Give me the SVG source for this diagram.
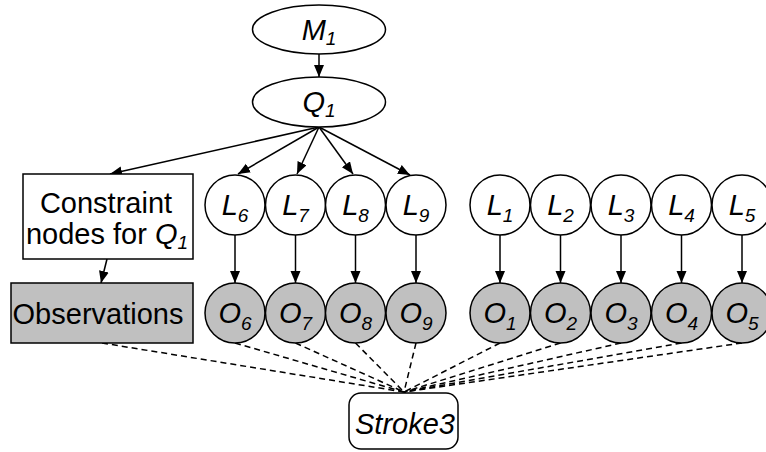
<svg xmlns="http://www.w3.org/2000/svg" width="766" height="452" viewBox="0 0 766 452">
<style>
text{font-family:"Liberation Sans",Arial,sans-serif;font-size:29px;fill:#000}
.i{font-style:italic}
.s{font-size:19px}
.nd{stroke:#000;stroke-width:1.5}
.w{fill:#fff}
.g{fill:#c0c0c0}
.a{stroke:#000;stroke-width:1.5;fill:none;marker-end:url(#ah)}
.d{stroke:#000;stroke-width:1.5;fill:none;stroke-dasharray:6,4}
</style>
<defs>
<marker id="ah" markerUnits="userSpaceOnUse" markerWidth="13" markerHeight="11" refX="12" refY="5" orient="auto">
<path d="M0,0 L12,5 L0,10 z" fill="#000"/>
</marker>
</defs>
<g id="connectors">
<line class="a" x1="319" y1="54" x2="319" y2="77"/>
<line class="a" x1="319" y1="127" x2="110" y2="174"/>
<line class="a" x1="319" y1="127" x2="238" y2="174"/>
<line class="a" x1="319" y1="127" x2="297" y2="174"/>
<line class="a" x1="319" y1="127" x2="353" y2="174"/>
<line class="a" x1="319" y1="127" x2="410" y2="175"/>
<line class="a" x1="107" y1="259" x2="101" y2="283"/>
<line class="a" x1="235" y1="235" x2="235" y2="283"/>
<line class="a" x1="295.5" y1="235" x2="295.5" y2="283"/>
<line class="a" x1="355.5" y1="235" x2="355.5" y2="283"/>
<line class="a" x1="416" y1="235" x2="416" y2="283"/>
<line class="a" x1="500" y1="235" x2="500" y2="283"/>
<line class="a" x1="560.5" y1="235" x2="560.5" y2="283"/>
<line class="a" x1="621" y1="235" x2="621" y2="283"/>
<line class="a" x1="681.5" y1="235" x2="681.5" y2="283"/>
<line class="a" x1="742" y1="235" x2="742" y2="283"/>
<line class="d" x1="102" y1="343" x2="404" y2="392"/>
<line class="d" x1="235" y1="343" x2="404" y2="392"/>
<line class="d" x1="295.5" y1="343" x2="404" y2="392"/>
<line class="d" x1="355.5" y1="343" x2="404" y2="392"/>
<line class="d" x1="416" y1="343" x2="404" y2="392"/>
<line class="d" x1="500" y1="343" x2="404" y2="392"/>
<line class="d" x1="560.5" y1="343" x2="404" y2="392"/>
<line class="d" x1="621" y1="343" x2="404" y2="392"/>
<line class="d" x1="681.5" y1="343" x2="404" y2="392"/>
<line class="d" x1="742" y1="343" x2="404" y2="392"/>
</g>
<g id="M1"><ellipse class="nd w" cx="319" cy="29.5" rx="66.5" ry="24.5"/><text class="i" x="319" y="40" text-anchor="middle">M<tspan class="s" dy="5">1</tspan></text></g>
<g id="Q1"><ellipse class="nd w" cx="319" cy="102" rx="66.5" ry="25"/><text class="i" x="319" y="112" text-anchor="middle">Q<tspan class="s" dy="5">1</tspan></text></g>
<g id="constraint"><rect class="nd w" x="23" y="174" width="170" height="85"/><text x="106" y="213" text-anchor="middle">Constraint</text><text x="107" y="244" text-anchor="middle">nodes for <tspan class="i">Q</tspan><tspan class="i s" dy="5">1</tspan></text></g>
<g id="observations"><rect class="nd g" x="11" y="283" width="182" height="60"/><text x="98" y="324" text-anchor="middle">Observations</text></g>
<g id="L6"><circle class="nd w" cx="235" cy="205" r="30"/><text class="i" x="235" y="215" text-anchor="middle">L<tspan class="s" dy="7">6</tspan></text></g>
<g id="L7"><circle class="nd w" cx="295.5" cy="205" r="30"/><text class="i" x="295.5" y="215" text-anchor="middle">L<tspan class="s" dy="7">7</tspan></text></g>
<g id="L8"><circle class="nd w" cx="355.5" cy="205" r="30"/><text class="i" x="355.5" y="215" text-anchor="middle">L<tspan class="s" dy="7">8</tspan></text></g>
<g id="L9"><circle class="nd w" cx="416" cy="205" r="30"/><text class="i" x="416" y="215" text-anchor="middle">L<tspan class="s" dy="7">9</tspan></text></g>
<g id="L1"><circle class="nd w" cx="500" cy="205" r="30"/><text class="i" x="500" y="215" text-anchor="middle">L<tspan class="s" dy="7">1</tspan></text></g>
<g id="L2"><circle class="nd w" cx="560.5" cy="205" r="30"/><text class="i" x="560.5" y="215" text-anchor="middle">L<tspan class="s" dy="7">2</tspan></text></g>
<g id="L3"><circle class="nd w" cx="621" cy="205" r="30"/><text class="i" x="621" y="215" text-anchor="middle">L<tspan class="s" dy="7">3</tspan></text></g>
<g id="L4"><circle class="nd w" cx="681.5" cy="205" r="30"/><text class="i" x="681.5" y="215" text-anchor="middle">L<tspan class="s" dy="7">4</tspan></text></g>
<g id="L5"><circle class="nd w" cx="742" cy="205" r="30"/><text class="i" x="742" y="215" text-anchor="middle">L<tspan class="s" dy="7">5</tspan></text></g>
<g id="O6"><circle class="nd g" cx="235" cy="313" r="30"/><text class="i" x="235" y="323" text-anchor="middle">O<tspan class="s" dy="7">6</tspan></text></g>
<g id="O7"><circle class="nd g" cx="295.5" cy="313" r="30"/><text class="i" x="295.5" y="323" text-anchor="middle">O<tspan class="s" dy="7">7</tspan></text></g>
<g id="O8"><circle class="nd g" cx="355.5" cy="313" r="30"/><text class="i" x="355.5" y="323" text-anchor="middle">O<tspan class="s" dy="7">8</tspan></text></g>
<g id="O9"><circle class="nd g" cx="416" cy="313" r="30"/><text class="i" x="416" y="323" text-anchor="middle">O<tspan class="s" dy="7">9</tspan></text></g>
<g id="O1"><circle class="nd g" cx="500" cy="313" r="30"/><text class="i" x="500" y="323" text-anchor="middle">O<tspan class="s" dy="7">1</tspan></text></g>
<g id="O2"><circle class="nd g" cx="560.5" cy="313" r="30"/><text class="i" x="560.5" y="323" text-anchor="middle">O<tspan class="s" dy="7">2</tspan></text></g>
<g id="O3"><circle class="nd g" cx="621" cy="313" r="30"/><text class="i" x="621" y="323" text-anchor="middle">O<tspan class="s" dy="7">3</tspan></text></g>
<g id="O4"><circle class="nd g" cx="681.5" cy="313" r="30"/><text class="i" x="681.5" y="323" text-anchor="middle">O<tspan class="s" dy="7">4</tspan></text></g>
<g id="O5"><circle class="nd g" cx="742" cy="313" r="30"/><text class="i" x="742" y="323" text-anchor="middle">O<tspan class="s" dy="7">5</tspan></text></g>
<g id="stroke3"><rect class="nd w" x="349" y="393" width="109" height="56" rx="12"/><text class="i" x="405" y="434" text-anchor="middle">Stroke3</text></g>
</svg>
